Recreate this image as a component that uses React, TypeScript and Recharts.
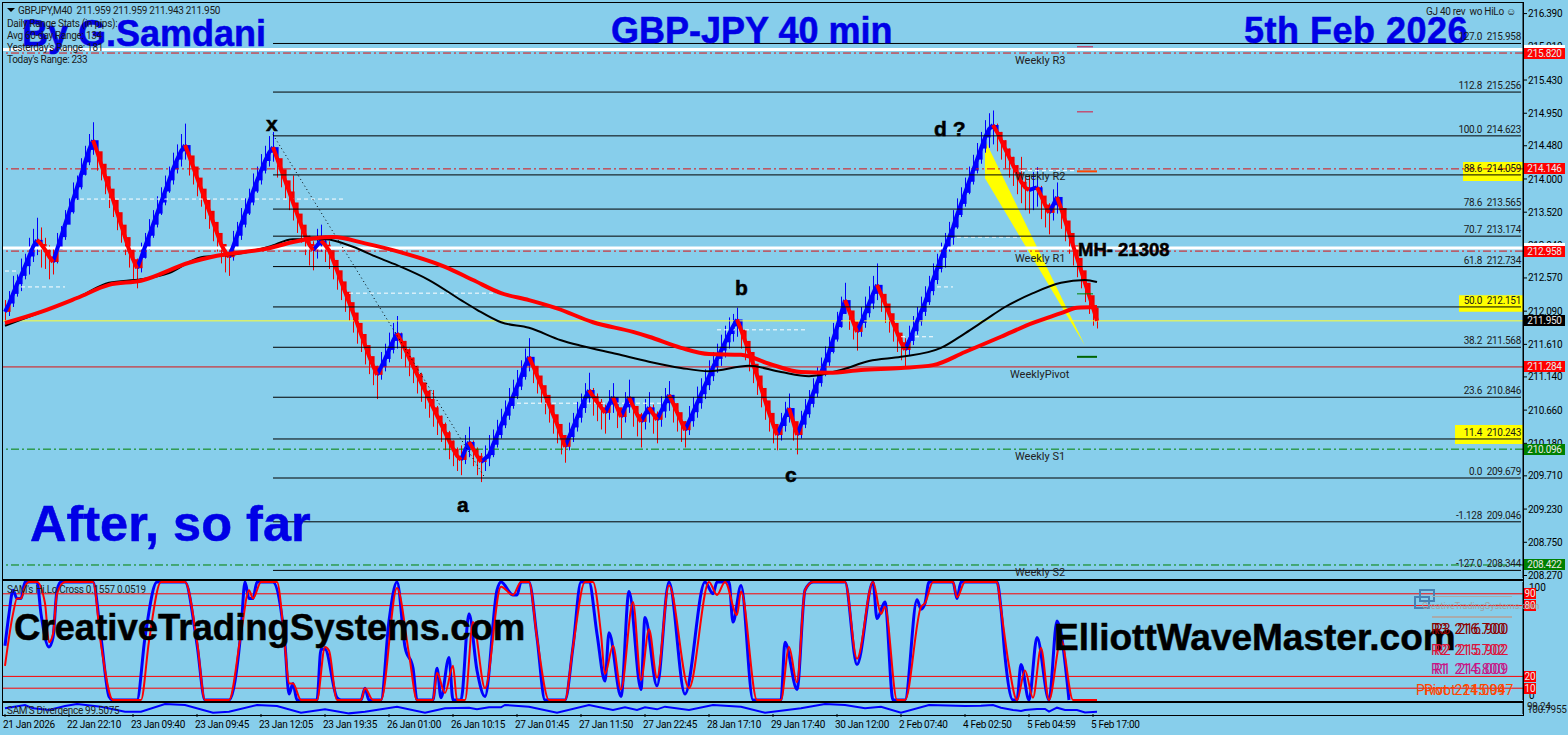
import React from 'react';
import { ComposedChart, Line, Bar, Area, XAxis, YAxis, ReferenceLine, ReferenceArea } from 'recharts';

const BAR_SLOTS = 380;

const closes = [
  212.08, 212.20, 212.34, 212.48, 212.60, 212.74, 212.88, 213.02, 213.12, 213.06,
  212.98, 212.88, 212.80, 212.98, 213.16, 213.34, 213.52, 213.70, 213.88, 214.06,
  214.24, 214.42, 214.56, 214.40, 214.22, 214.04, 213.86, 213.70, 213.52, 213.34,
  213.16, 212.98, 212.84, 212.71, 212.86, 213.02, 213.18, 213.34, 213.50, 213.66,
  213.82, 213.98, 214.14, 214.28, 214.40, 214.49, 214.34, 214.18, 214.02, 213.86,
  213.70, 213.54, 213.38, 213.22, 213.06, 212.95, 212.87, 213.02, 213.18, 213.34,
  213.50, 213.66, 213.82, 213.98, 214.12, 214.26, 214.38, 214.46, 214.30, 214.14,
  213.98, 213.82, 213.66, 213.50, 213.34, 213.18, 213.06, 212.97, 213.04, 213.11,
  213.05, 212.97, 212.83, 212.68, 212.52, 212.37, 212.22, 212.07, 211.92, 211.76,
  211.60, 211.44, 211.30, 211.17, 211.28, 211.40, 211.53, 211.66, 211.77, 211.66,
  211.54, 211.42, 211.30, 211.18, 211.06, 210.94, 210.82, 210.70, 210.58, 210.46,
  210.34, 210.22, 210.10, 210.00, 209.94, 210.08, 210.20, 210.10, 210.00, 209.91,
  209.96, 210.01, 210.16, 210.30, 210.44, 210.58, 210.72, 210.86, 211.00, 211.14,
  211.30, 211.43, 211.30, 211.16, 211.02, 210.88, 210.74, 210.60, 210.46, 210.30,
  210.13, 210.27, 210.41, 210.55, 210.69, 210.83, 210.95, 210.86, 210.78, 210.70,
  210.62, 210.74, 210.85, 210.70, 210.56, 210.70, 210.85, 210.72, 210.60, 210.49,
  210.60, 210.70, 210.61, 210.52, 210.64, 210.76, 210.88, 210.76, 210.63, 210.50,
  210.37, 210.50, 210.63, 210.76, 210.89, 211.02, 211.15, 211.28, 211.40, 211.52,
  211.64, 211.76, 211.87, 211.97, 211.82, 211.66, 211.50, 211.33, 211.16, 210.98,
  210.80, 210.62, 210.46, 210.30, 210.43, 210.56, 210.69, 210.50, 210.30, 210.45,
  210.60, 210.75, 210.90, 211.05, 211.20, 211.35, 211.50, 211.68, 211.86, 212.05,
  212.25, 212.10, 211.94, 211.79, 211.92, 212.06, 212.20, 212.34, 212.47, 212.34,
  212.20, 212.06, 211.92, 211.78, 211.64, 211.53, 211.66, 211.80, 211.94, 212.08,
  212.22, 212.38, 212.54, 212.70, 212.86, 213.00, 213.15, 213.30, 213.48, 213.64,
  213.80, 213.96, 214.12, 214.28, 214.44, 214.60, 214.72, 214.78, 214.68, 214.56,
  214.44, 214.32, 214.20, 214.08, 213.96, 213.88, 213.84, 213.86, 213.88, 213.76,
  213.63, 213.51, 213.62, 213.74, 213.58, 213.40, 213.22, 213.04, 212.86, 212.68,
  212.50, 212.32, 212.14, 211.95,
];

const highs = [
  212.25, 212.38, 212.60, 212.62, 212.85, 212.92, 213.15, 213.28, 213.44, 213.30,
  213.15, 213.04, 213.00, 213.22, 213.32, 213.55, 213.72, 213.95, 214.05, 214.30,
  214.48, 214.65, 214.82, 214.52, 214.36, 214.16, 213.98, 213.84, 213.64, 213.48,
  213.28, 213.10, 212.98, 212.85, 213.08, 213.22, 213.42, 213.55, 213.75, 213.88,
  214.05, 214.18, 214.38, 214.50, 214.65, 214.80, 214.46, 214.30, 214.14, 213.98,
  213.82, 213.66, 213.50, 213.35, 213.18, 213.06, 213.00, 213.25, 213.38, 213.58,
  213.72, 213.86, 214.08, 214.18, 214.36, 214.48, 214.62, 214.68, 214.42, 214.26,
  214.10, 213.94, 214.05, 213.62, 213.46, 213.30, 213.18, 213.10, 213.28, 213.34,
  213.18, 213.10, 212.95, 212.80, 212.65, 212.50, 212.35, 212.20, 212.05, 211.90,
  211.72, 211.56, 211.42, 211.30, 211.50, 211.62, 211.78, 211.92, 212.02, 211.78,
  211.66, 211.55, 211.42, 211.30, 211.20, 211.05, 210.95, 210.95, 210.72, 210.58,
  210.48, 210.36, 210.22, 210.12, 210.15, 210.30, 210.42, 210.22, 210.12, 210.04,
  210.15, 210.30, 210.38, 210.52, 210.68, 210.80, 210.98, 211.10, 211.24, 211.38,
  211.55, 211.70, 211.42, 211.28, 211.14, 211.00, 210.86, 210.72, 210.58, 210.42,
  210.28, 210.48, 210.62, 210.78, 210.90, 211.05, 211.20, 210.98, 210.90, 210.82,
  210.74, 210.95, 211.05, 210.82, 210.68, 210.92, 211.10, 210.84, 210.72, 210.62,
  210.82, 210.92, 210.74, 210.64, 210.86, 210.98, 211.08, 210.88, 210.76, 210.62,
  210.50, 210.72, 210.85, 211.00, 211.12, 211.25, 211.38, 211.50, 211.62, 211.75,
  211.88, 212.00, 212.05, 212.14, 211.94, 211.78, 211.62, 211.45, 211.28, 211.10,
  210.92, 210.74, 210.58, 210.44, 210.62, 210.78, 210.90, 210.62, 210.45, 210.65,
  210.82, 210.95, 211.12, 211.28, 211.42, 211.58, 211.72, 211.92, 212.08, 212.30,
  212.50, 212.22, 212.06, 211.92, 212.15, 212.30, 212.45, 212.60, 212.78, 212.46,
  212.32, 212.18, 212.04, 211.90, 211.76, 211.70, 211.88, 212.02, 212.15, 212.30,
  212.45, 212.60, 212.78, 212.92, 213.08, 213.22, 213.38, 213.55, 213.72, 213.88,
  214.02, 214.18, 214.35, 214.52, 214.68, 214.85, 214.95, 214.99, 214.80, 214.68,
  214.56, 214.44, 214.32, 214.20, 214.32, 214.02, 214.06, 214.10, 214.17, 213.90,
  213.75, 213.65, 213.85, 213.95, 213.70, 213.52, 213.34, 213.16, 212.98, 212.80,
  212.62, 212.44, 212.26, 212.12,
];

const lows = [
  211.90, 212.02, 212.15, 212.30, 212.38, 212.55, 212.62, 212.80, 212.90, 212.72,
  212.70, 212.55, 212.62, 212.78, 213.00, 213.12, 213.35, 213.50, 213.70, 213.85,
  214.05, 214.20, 214.35, 214.12, 213.98, 213.78, 213.58, 213.45, 213.26, 213.08,
  212.90, 212.72, 212.55, 212.42, 212.65, 212.85, 212.98, 213.15, 213.30, 213.48,
  213.62, 213.80, 213.92, 214.08, 214.18, 214.28, 214.05, 213.92, 213.75, 213.60,
  213.42, 213.28, 213.10, 212.95, 212.78, 212.65, 212.60, 212.82, 213.00, 213.12,
  213.30, 213.48, 213.62, 213.80, 213.92, 214.08, 214.18, 214.25, 214.02, 213.88,
  213.72, 213.55, 213.40, 213.22, 213.08, 212.90, 212.75, 212.68, 212.85, 212.95,
  212.80, 212.70, 212.55, 212.40, 212.25, 212.08, 211.95, 211.78, 211.62, 211.50,
  211.32, 211.18, 211.02, 210.82, 211.10, 211.22, 211.35, 211.48, 211.55, 211.40,
  211.28, 211.15, 211.05, 210.90, 210.78, 210.68, 210.55, 210.42, 210.30, 210.20,
  210.08, 209.95, 209.85, 209.78, 209.72, 209.88, 209.98, 209.85, 209.72, 209.62,
  209.78, 209.85, 209.98, 210.12, 210.25, 210.40, 210.52, 210.68, 210.82, 210.95,
  211.10, 211.22, 211.05, 210.90, 210.75, 210.60, 210.48, 210.32, 210.18, 210.02,
  209.90, 210.08, 210.20, 210.35, 210.48, 210.62, 210.75, 210.58, 210.50, 210.38,
  210.32, 210.52, 210.62, 210.40, 210.25, 210.48, 210.62, 210.42, 210.28, 210.12,
  210.38, 210.48, 210.32, 210.18, 210.42, 210.55, 210.65, 210.48, 210.35, 210.20,
  210.12, 210.30, 210.42, 210.55, 210.68, 210.82, 210.95, 211.08, 211.20, 211.30,
  211.42, 211.55, 211.65, 211.72, 211.55, 211.38, 211.22, 211.05, 210.88, 210.70,
  210.52, 210.35, 210.18, 210.08, 210.22, 210.35, 210.48, 210.22, 210.02, 210.25,
  210.40, 210.55, 210.70, 210.85, 211.00, 211.15, 211.30, 211.48, 211.65, 211.85,
  212.05, 211.82, 211.68, 211.52, 211.72, 211.85, 212.00, 212.12, 212.25, 212.08,
  211.92, 211.78, 211.65, 211.50, 211.38, 211.28, 211.45, 211.60, 211.75, 211.88,
  212.02, 212.18, 212.32, 212.48, 212.65, 212.72, 212.95, 213.05, 213.28, 213.45,
  213.60, 213.78, 213.92, 214.08, 214.22, 214.38, 214.45, 214.50, 214.40, 214.28,
  214.15, 214.02, 213.90, 213.78, 213.65, 213.55, 213.50, 213.55, 213.60, 213.42,
  213.30, 213.20, 213.40, 213.50, 213.28, 213.10, 212.92, 212.75, 212.58, 212.42,
  212.22, 212.05, 211.88, 211.84,
];

const blackMaBars = [0, 19, 26, 34, 41, 49, 56, 66, 72, 80, 87, 93, 99, 106, 114, 118, 124, 131, 139, 144, 153, 161, 169, 176, 186, 194, 201, 209, 216, 224, 234, 240, 245, 250, 257, 264, 270, 273];
const blackMaValues = [211.88, 212.31, 212.50, 212.55, 212.64, 212.87, 212.90, 213.02, 213.13, 213.13, 213.02, 212.87, 212.73, 212.54, 212.25, 212.11, 211.93, 211.85, 211.67, 211.59, 211.47, 211.36, 211.27, 211.22, 211.30, 211.21, 211.15, 211.24, 211.37, 211.43, 211.56, 211.77, 211.96, 212.15, 212.35, 212.50, 212.54, 212.51];
const redMaBars = [0, 9, 18, 26, 34, 46, 53, 66, 72, 82, 90, 99, 110, 117, 124, 131, 138, 147, 157, 161, 169, 176, 184, 191, 199, 206, 214, 224, 232, 240, 249, 257, 264, 268, 273];
const redMaValues = [211.92, 212.08, 212.28, 212.47, 212.53, 212.79, 212.89, 213.00, 213.09, 213.16, 213.07, 212.94, 212.73, 212.54, 212.35, 212.25, 212.13, 211.93, 211.79, 211.72, 211.56, 211.47, 211.46, 211.33, 211.21, 211.20, 211.24, 211.27, 211.31, 211.50, 211.72, 211.92, 212.06, 212.14, 212.15];

const wedgeBars = [245, 270];
const wedgeTop = [214.56, 211.59];
const wedgeBottom = [214.01, 211.59];

const oscBlueBars = [0, 1, 2, 3, 4, 5, 8, 9, 11, 12, 13, 14, 22, 24, 26, 27, 33, 35, 38, 45, 48, 50, 56, 59, 60, 61, 62, 63, 67, 70, 71, 72, 73, 78, 79, 80, 83, 84, 89, 90, 91, 94, 96, 98, 100, 102, 103, 107, 108, 109, 111, 112, 114, 116, 118, 120, 123, 124, 127, 128, 129, 131, 133, 135, 140, 142, 144, 146, 148, 150, 151, 154, 156, 159, 160, 163, 166, 170, 175, 177, 178, 181, 182, 184, 187, 194, 195, 198, 200, 202, 210, 213, 217, 218, 220, 222, 225, 228, 229, 230, 231, 237, 238, 239, 248, 249, 250, 252, 253, 254, 256, 258, 261, 263, 266];
const oscBlueValues = [46, 73, 93, 86, 86, 100, 100, 73, 45, 53, 93, 100, 100, 53, 3, 0, 0, 53, 100, 100, 47, 0, 0, 59, 100, 86, 86, 100, 100, 47, 5, 14, 0, 0, 43, 43, 2, 0, 0, 10, 0, 0, 67, 100, 45, 27, 0, 0, 27, 2, 36, 0, 0, 73, 25, 3, 93, 100, 89, 89, 100, 100, 53, 0, 0, 45, 100, 100, 56, 16, 57, 3, 92, 9, 70, 12, 100, 5, 100, 90, 100, 100, 66, 97, 0, 0, 49, 9, 93, 100, 100, 30, 100, 69, 83, 0, 0, 85, 77, 82, 100, 100, 86, 100, 100, 77, 37, 0, 0, 30, 0, 53, 0, 67, 0];
const oscRedBars = [0, 2, 3, 4, 5, 6, 8, 10, 11, 12, 13, 15, 22, 24, 27, 34, 36, 39, 45, 48, 50, 56, 59, 61, 62, 64, 68, 70, 71, 72, 74, 78, 80, 81, 83, 89, 90, 92, 94, 98, 101, 103, 107, 108, 110, 112, 113, 115, 117, 120, 124, 127, 129, 131, 133, 136, 140, 142, 145, 147, 149, 150, 152, 154, 157, 159, 161, 163, 166, 171, 176, 178, 180, 183, 184, 188, 194, 196, 198, 200, 202, 210, 213, 217, 219, 220, 223, 225, 229, 230, 232, 237, 238, 240, 248, 249, 251, 253, 255, 257, 259, 261, 264, 267, 273];
const oscRedValues = [29, 73, 86, 86, 96, 100, 100, 82, 49, 56, 90, 100, 100, 47, 0, 0, 50, 100, 100, 50, 0, 0, 56, 93, 86, 100, 100, 45, 14, 14, 0, 0, 45, 42, 0, 0, 10, 0, 0, 95, 39, 0, 0, 23, 6, 29, 0, 0, 66, 10, 96, 89, 100, 100, 53, 0, 0, 45, 100, 100, 56, 22, 46, 9, 83, 17, 60, 19, 97, 10, 100, 89, 100, 72, 92, 0, 0, 45, 15, 93, 100, 100, 35, 100, 73, 79, 0, 0, 79, 82, 100, 100, 87, 100, 100, 77, 29, 0, 25, 2, 44, 0, 51, 0, 0];

const divergenceBars = [0, 5, 7, 11, 15, 18, 24, 30, 34, 40, 45, 52, 56, 63, 68, 74, 80, 86, 90, 98, 105, 110, 116, 118, 121, 124, 125, 131, 138, 146, 152, 155, 158, 160, 163, 165, 171, 177, 184, 190, 199, 205, 210, 215, 219, 224, 231, 240, 244, 247, 249, 252, 254, 255, 258, 260, 261, 263, 265, 268, 270, 273];
const divergenceValues = [99.8, 100.33, 99.8, 99.54, 100.17, 100.48, 100.06, 99.27, 99.27, 100.48, 100.33, 99.11, 99.27, 100.33, 100.17, 99.11, 99.64, 99.0, 99.27, 100.06, 99.11, 99.8, 99.9, 99.64, 99.96, 99.96, 100.33, 100.06, 99.11, 100.33, 99.54, 99.96, 99.54, 99.96, 99.64, 100.06, 99.54, 100.33, 100.06, 99.11, 99.8, 100.48, 100.33, 99.8, 100.06, 99.11, 100.33, 100.17, 100.22, 100.33, 99.9, 99.54, 99.38, 99.54, 99.7, 99.7, 99.27, 99.9, 99.54, 99.54, 99.15, 99.27];

const fibPercents = ['127.0', '112.8', '100.0', '88.6', '78.6', '70.7', '61.8', '50.0', '38.2', '23.6', '11.4', '0.0', '-1.128', '-127.0'];
const fibPrices = [215.958, 215.256, 214.623, 214.059, 213.565, 213.174, 212.734, 212.151, 211.568, 210.846, 210.243, 209.679, 209.046, 208.344];
const highlightFrom = [365, 364, 363];
const highlightLow = [213.97, 212.08, 210.17];
const highlightHigh = [214.245, 212.32, 210.445];

const priceTicks = [216.39, 215.91, 215.43, 214.95, 214.48, 214.0, 213.52, 213.04, 212.57, 212.09, 211.61, 211.14, 210.66, 210.18, 209.71, 209.23, 208.75, 208.27];
const tagPrices = [215.82, 214.146, 212.958, 211.95, 211.284, 210.096, 208.422];
const tagColors = ['#ff0000', '#ff0000', '#ff0000', '#000000', '#ff0000', '#008000', '#008000'];
const levelDash = ['8 3 2 3', '8 3 2 3', '8 3 2 3', '', '', '8 3 2 3', '8 3 2 3'];
const levelColors = ['#dd1111', '#dd1111', '#dd1111', '#ffff33', '#dd1111', '#008000', '#008000'];
const whiteLevels = [215.871, 213.003];

const whiteDashPrices = [213.71, 212.44, 212.67, 212.35, 210.76, 211.82, 211.72, 212.44, 213.16, 214.12];
const whiteDashFrom = [17, 4, 0, 86, 128, 178, 224, 233, 238, 254];
const whiteDashTo = [85, 15, 3, 125, 165, 200, 232, 237, 254, 268];

const pivotMarkPrices = [215.91, 214.97, 214.11, 212.34, 211.43];
const pivotMarkColors = ['#dc143c', '#dc143c', '#ff4500', '#008000', '#006400'];
const pivotMarkEnds = [272, 272, 273, 272, 273];
const pivotMarkWidths = [1, 1, 2, 1, 2];

const weeklyNames = ['Weekly R3', 'Weekly R2', 'Weekly R1', 'WeeklyPivot', 'Weekly S1', 'Weekly S2'];
const weeklyPrices = [215.82, 214.146, 212.958, 211.284, 210.096, 208.422];
const oscLevels = [90, 80, 20, 10];

const timeLabels = ['21 Jan 2026', '22 Jan 22:10', '23 Jan 09:40', '23 Jan 09:45', '23 Jan 12:05', '23 Jan 19:35', '26 Jan 01:00', '26 Jan 10:15', '27 Jan 01:45', '27 Jan 11:50', '27 Jan 22:45', '28 Jan 17:10', '29 Jan 17:40', '30 Jan 12:00', '2 Feb 07:40', '4 Feb 02:50', '5 Feb 04:59', '5 Feb 17:00'];
const timeTickBars = timeLabels.map((_, i) => i * 16);

const pick = (bars: number[], values: number[], bar: number) => {
  const at = bars.indexOf(bar);
  return at < 0 ? null : values[at];
};

const isUp = (i: number) => i > 0 && i < closes.length && closes[i] > closes[i - 1];

const rows = Array.from({ length: BAR_SLOTS }, (_, bar) => {
  const has = bar < closes.length;
  const wedgeAt = wedgeBars.indexOf(bar);
  return {
    bar,
    wick: has ? [lows[bar], highs[bar]] : null,
    body: has && bar > 0 ? [Math.min(closes[bar - 1], closes[bar]), Math.max(closes[bar - 1], closes[bar])] : null,
    upRibbon: has && (isUp(bar) || isUp(bar + 1)) ? closes[bar] : null,
    downRibbon: has && (!isUp(bar) || (bar + 1 < closes.length && !isUp(bar + 1))) ? closes[bar] : null,
    blackMa: pick(blackMaBars, blackMaValues, bar),
    redMa: pick(redMaBars, redMaValues, bar),
    wedge: wedgeAt < 0 ? null : [wedgeBottom[wedgeAt], wedgeTop[wedgeAt]],
    oscBlue: pick(oscBlueBars, oscBlueValues, bar),
    oscRed: pick(oscRedBars, oscRedValues, bar),
    divergence: pick(divergenceBars, divergenceValues, bar),
  };
});

const PRICE_TOP = 216.543;
const PRICE_BOTTOM = 208.234;
const MAIN_TOP = 3;
const MAIN_BOTTOM = 578;
const py = (price: number) => MAIN_TOP + ((PRICE_TOP - price) / (PRICE_TOP - PRICE_BOTTOM)) * (MAIN_BOTTOM - MAIN_TOP);
const oy = (v: number) => 582 + ((100 - v) / 100) * 118;

const SMALL = 'Roboto, sans-serif';
const BOLD = '"Liberation Sans", Arial, sans-serif';
const SMALL_SIZE = 10;
const SMALL_SPACING = -0.3;

function Label({ x, y, right, size = SMALL_SIZE, color = '#1a1a1a', bold, children, spacing }: any) {
  const style: any = {
    position: 'absolute',
    top: y,
    transform: 'translateY(-50%)',
    fontFamily: bold ? BOLD : SMALL,
    fontSize: size,
    fontWeight: bold ? 700 : 400,
    color,
    whiteSpace: 'pre',
    lineHeight: 1,
    letterSpacing: spacing ?? (size === SMALL_SIZE ? SMALL_SPACING : 0),
    WebkitTextStroke: bold ? `0.5px ${color}` : undefined,
  };
  if (right != null) style.right = 1568 - right;
  else style.left = x;
  return <div style={style}>{children}</div>;
}

function Frame({ top, height }: { top: number; height: number }) {
  return <div style={{ position: 'absolute', left: 2, top, width: 1520, height, border: '1px solid #000', pointerEvents: 'none' }} />;
}

function Candle({ x, y, width, height, index }: any) {
  if (!height) return null;
  return <rect x={Math.round(x)} y={y} width={width} height={height} fill={isUp(index) ? '#0000ff' : '#ee0000'} />;
}

function TimeTick({ x, y, payload }: any) {
  return (
    <text x={x - 2} y={y + 9} fontFamily={SMALL} fontSize={SMALL_SIZE} letterSpacing={SMALL_SPACING} fill="#000">
      {timeLabels[timeTickBars.indexOf(payload.value)]}
    </text>
  );
}

function OscTick({ x, y, payload }: any) {
  return (
    <text x={x + 4} y={y + (payload.value === 100 ? 9 : -1)} fontFamily={SMALL} fontSize={SMALL_SIZE} fill="#000">
      {payload.value}
    </text>
  );
}

export default function App() {
  return (
    <div style={{ position: 'absolute', left: 0, top: 0, width: 1568, height: 735, background: '#87ceeb', overflow: 'hidden' }}>
      <div style={{ position: 'absolute', left: 0, top: 0 }}>
        <ComposedChart width={1568} height={590} data={rows} margin={{ top: 3, right: 0, bottom: 12, left: 3 }}>
          <XAxis dataKey="bar" type="category" scale="band" hide />
          <XAxis xAxisId="body" dataKey="bar" type="category" scale="band" hide />
          <YAxis
            orientation="right"
            width={45}
            type="number"
            domain={[PRICE_BOTTOM, PRICE_TOP]}
            allowDataOverflow
            ticks={priceTicks}
            interval={0}
            tickFormatter={(v: number) => v.toFixed(3)}
            tick={{ fill: '#000', fontSize: SMALL_SIZE, fontFamily: SMALL, letterSpacing: SMALL_SPACING }}
            tickSize={4}
            tickMargin={1}
            stroke="#000"
          />

          {highlightFrom.map((from, i) => (
            <ReferenceArea key={from} x1={from} x2={379} y1={highlightLow[i]} y2={highlightHigh[i]} fill="#ffff00" fillOpacity={1} stroke="none" />
          ))}

          <Area dataKey="wedge" connectNulls stroke="none" fill="#ffff00" fillOpacity={1} dot={false} activeDot={false} isAnimationActive={false} />

          {tagPrices.map((p, i) => (
            <ReferenceLine key={p} y={p} stroke={levelColors[i]} strokeWidth={1} strokeDasharray={levelDash[i] || undefined} />
          ))}
          {whiteLevels.map(p => (
            <ReferenceLine key={p} y={p} stroke="#ffffff" strokeWidth={3} />
          ))}
          {whiteDashPrices.map((p, i) => (
            <ReferenceLine
              key={i}
              segment={[{ x: whiteDashFrom[i], y: p }, { x: whiteDashTo[i], y: p }]}
              stroke="#ffffff"
              strokeWidth={1}
              strokeDasharray="4 3"
            />
          ))}

          <Bar dataKey="wick" barSize={1} shape={<Candle />} isAnimationActive={false} />
          <Line dataKey="upRibbon" stroke="#0000ff" strokeWidth={4} dot={false} activeDot={false} isAnimationActive={false} />
          <Line dataKey="downRibbon" stroke="#ff0000" strokeWidth={4} dot={false} activeDot={false} isAnimationActive={false} />
          <Bar xAxisId="body" dataKey="body" barSize={4} shape={<Candle />} isAnimationActive={false} />

          {fibPrices.map(p => (
            <ReferenceLine key={p} segment={[{ x: 67, y: p }, { x: 379, y: p }]} stroke="#000" strokeWidth={1} />
          ))}
          {pivotMarkPrices.map((p, i) => (
            <ReferenceLine
              key={p}
              segment={[{ x: 268, y: p }, { x: pivotMarkEnds[i], y: p }]}
              stroke={pivotMarkColors[i]}
              strokeWidth={pivotMarkWidths[i]}
            />
          ))}
          <ReferenceLine segment={[{ x: 67, y: 214.64 }, { x: 120, y: 209.68 }]} stroke="#000" strokeWidth={1} strokeDasharray="1 3" />

          <Line dataKey="blackMa" type="monotone" connectNulls stroke="#000" strokeWidth={2} dot={false} activeDot={false} isAnimationActive={false} />
          <Line dataKey="redMa" type="monotone" connectNulls stroke="#ff0000" strokeWidth={4} dot={false} activeDot={false} isAnimationActive={false} />
        </ComposedChart>
      </div>

      <div style={{ position: 'absolute', left: 0, top: 580 }}>
        <ComposedChart width={1568} height={121} data={rows} margin={{ top: 2, right: 0, bottom: 1, left: 3 }}>
          <XAxis dataKey="bar" type="category" scale="band" hide />
          <YAxis
            orientation="right"
            width={45}
            type="number"
            domain={[0, 100]}
            ticks={[100, 0]}
            interval={0}
            tick={<OscTick />}
            tickSize={0}
            stroke="#000"
          />
          {oscLevels.map(v => (
            <ReferenceLine key={v} y={v} stroke="#ff0000" strokeWidth={1} />
          ))}
          <Line dataKey="oscBlue" type="monotone" connectNulls stroke="#0000ff" strokeWidth={3} dot={false} activeDot={false} isAnimationActive={false} />
          <Line dataKey="oscRed" type="monotone" connectNulls stroke="#ff0000" strokeWidth={2} dot={false} activeDot={false} isAnimationActive={false} />
        </ComposedChart>
      </div>

      <div style={{ position: 'absolute', left: 0, top: 702 }}>
        <ComposedChart width={1568} height={33} data={rows} margin={{ top: 0, right: 0, bottom: 0, left: 3 }}>
          <XAxis
            dataKey="bar"
            type="category"
            scale="band"
            height={21}
            ticks={timeTickBars}
            interval={0}
            tick={<TimeTick />}
            axisLine={false}
            tickSize={3}
            stroke="#000"
          />
          <YAxis orientation="right" width={45} type="number" domain={[98.9, 100.8]} tick={false} tickSize={0} stroke="#000" />
          <Line dataKey="divergence" connectNulls stroke="#0000ff" strokeWidth={2} dot={false} activeDot={false} isAnimationActive={false} />
        </ComposedChart>
      </div>

      <Frame top={2} height={576} />
      <Frame top={580} height={120} />
      <Frame top={702} height={12} />

      {/* big captions sit under the terminal's own small text */}
      <Label x={22} y={34} size={36} bold color="#0000e6">By G.Samdani</Label>
      <Label x={611} y={31} size={36} bold color="#0000e6">GBP-JPY 40 min</Label>
      <Label x={1244} y={31} size={36} bold color="#0000e6" spacing={0.5}>5th Feb 2026</Label>
      <Label x={30} y={524} size={50.5} bold color="#0000e6">After, so far</Label>
      <Label x={14} y={628} size={36.5} bold color="#000">CreativeTradingSystems.com</Label>
      <Label x={1054} y={637} size={37} bold color="#000">ElliottWaveMaster.com</Label>

      <div style={{ position: 'absolute', left: 7, top: 8, width: 0, height: 0, borderLeft: '4px solid transparent', borderRight: '4px solid transparent', borderTop: '4px solid #000' }} />
      <Label x={18} y={10.5}>GBPJPY,M40  211.959 211.959 211.943 211.950</Label>
      <Label x={7} y={24}>Daily Range Stats (in pips):</Label>
      <Label x={7} y={36}>Avg 60-day Range: 134</Label>
      <Label x={7} y={48}>Yesterday's Range: 181</Label>
      <Label x={7} y={60}>Today's Range: 233</Label>
      <Label x={1426} y={12}>GJ 40 rev  wo HiLo ☺</Label>

      <Label x={266} y={123} size={21} bold color="#000">x</Label>
      <Label x={934} y={128} size={21} bold color="#000">d ?</Label>
      <Label x={457} y={504} size={21} bold color="#000">a</Label>
      <Label x={735} y={287} size={21} bold color="#000">b</Label>
      <Label x={785} y={474} size={21} bold color="#000">c</Label>
      <Label x={1078} y={250} size={18.5} bold color="#000">MH- 21308</Label>

      {weeklyNames.map((name, i) => (
        <Label key={name} x={i === 3 ? 1010 : 1015} y={py(weeklyPrices[i]) + 7} size={11} color="#222">{name}</Label>
      ))}

      {fibPrices.map((p, i) => (
        <React.Fragment key={p}>
          <Label right={1482} y={py(p) - 6}>{fibPercents[i]}</Label>
          <Label right={1521} y={py(p) - 6}>{p.toFixed(3)}</Label>
        </React.Fragment>
      ))}

      {whiteLevels.map(p => (
        <div key={p} style={{ position: 'absolute', left: 1524, top: py(p) - 5, width: 41, height: 4, background: '#fff' }} />
      ))}
      {tagPrices.map((p, i) => (
        <div
          key={p}
          style={{
            position: 'absolute', left: 1524, top: py(p) - 5.5, width: 41, height: 11, background: tagColors[i],
            color: '#e8e8e8', fontFamily: SMALL, fontSize: SMALL_SIZE, letterSpacing: SMALL_SPACING, lineHeight: '11px', textAlign: 'center',
          }}
        >
          {p.toFixed(3)}
        </div>
      ))}
      {oscLevels.map(v => (
        <div
          key={v}
          style={{
            position: 'absolute', left: 1524, top: oy(v) - 5.5, width: 12, height: 11, background: '#ff0000',
            color: '#e8e8e8', fontFamily: SMALL, fontSize: SMALL_SIZE, lineHeight: '11px', textAlign: 'center',
          }}
        >
          {v}
        </div>
      ))}

      <Label x={7} y={590} color="#222">SAM's Hi.Lo Cross 0.1557 0.0519</Label>
      <Label x={7} y={711} color="#222">SAM'S Divergence 99.5075</Label>
      <Label x={1527} y={707}>99.24</Label>
      <Label x={1527} y={710}>100.7955</Label>

      <div style={{ position: 'absolute', left: 1419, top: 589, width: 12, height: 9, border: '2px solid #4682b4' }} />
      <div style={{ position: 'absolute', left: 1414, top: 596, width: 12, height: 9, border: '2px solid #4682b4' }} />
      <div style={{ position: 'absolute', left: 1432, top: 596, width: 80, height: 1, background: '#aaaaaa' }} />
      <div style={{ position: 'absolute', left: 1432, top: 616, width: 80, height: 2, background: '#aaaaaa' }} />
      <Label x={1422} y={606} size={9} color="#a0a0a0">CreativeTradingSystems.com</Label>

      <Label x={1431} y={629} size={14} color="#8b0000">R3  216.700</Label>
      <Label x={1434} y={629} size={14} color="#8b0000">R3  216.900</Label>
      <Label x={1431} y={650} size={14} color="#dc143c">R2  215.702</Label>
      <Label x={1434} y={650} size={14} color="#dc143c">R2  215.902</Label>
      <Label x={1431} y={669} size={14} color="#c71585">R1  214.800</Label>
      <Label x={1434} y={669} size={14} color="#c71585">R1  215.009</Label>
      <Label x={1416} y={690} size={14} color="#ff4500">Pivot  214.094</Label>
      <Label x={1424} y={690} size={14} color="#ff4500">Pivot  215.097</Label>
    </div>
  );
}
